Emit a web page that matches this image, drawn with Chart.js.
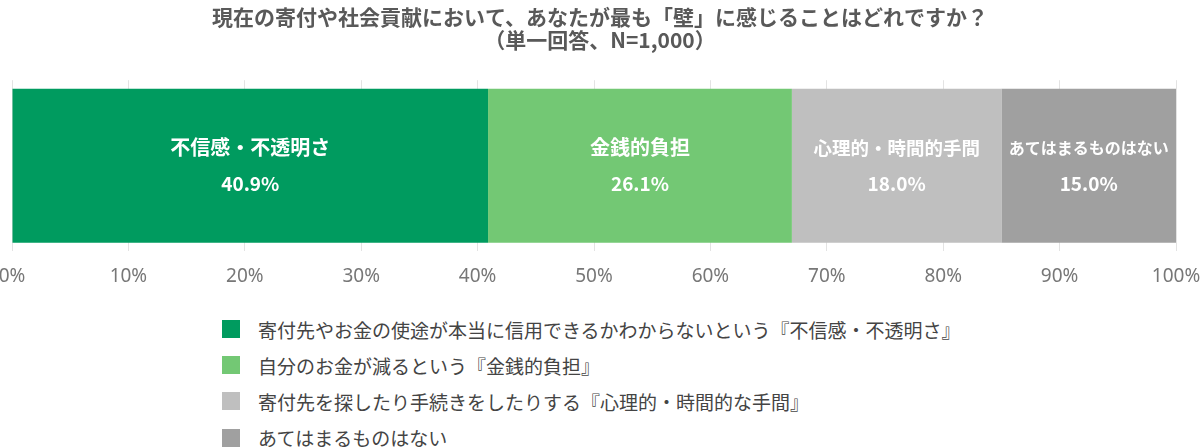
<!DOCTYPE html>
<html>
<head>
<meta charset="utf-8">
<script src="https://cdn.jsdelivr.net/npm/chart.js@4"></script>
<style>
  body { margin: 0; background: #fff; font-family: "Noto Sans CJK JP", "Noto Sans", sans-serif; }
  #wrap { position: relative; width: 1200px; height: 447px; }
  #box { position: absolute; left: 0; top: 0; width: 1200px; height: 302px; }
  #legend { position: absolute; left: 222px; top: 311px; margin: 0; padding: 0; list-style: none; }
  #legend li { height: 36.2px; display: flex; align-items: center; font-size: 19px; color: #444; }
  #legend span { display: inline-block; width: 18px; height: 18px; margin-right: 18px; }
</style>
</head>
<body>
<div id="wrap">
  <div id="box"><canvas id="chart"></canvas></div>
  <ul id="legend"></ul>
</div>
<script>
// Data
const titleLines = ['現在の寄付や社会貢献において、あなたが最も「壁」に感じることはどれですか？', '（単一回答、N=1,000）'];
const shortNames = ['不信感・不透明さ', '金銭的負担', '心理的・時間的手間', 'あてはまるものはない'];
const legendNames = [
    '寄付先やお金の使途が本当に信用できるかわからないという『不信感・不透明さ』',
    '自分のお金が減るという『金銭的負担』',
    '寄付先を探したり手続きをしたりする『心理的・時間的な手間』',
    'あてはまるものはない'
];
const shares = [40.9, 26.1, 18.0, 15.0];

// Styles
const colors = ['#009b5f', '#73c874', '#bfbfbf', '#a0a0a0'];
const nameSizes = [20, 20, 18.5, 16];

// labels drawn inside each segment
const insideLabels = {
    id: 'insideLabels',
    afterDatasetsDraw(chart) {
        const ctx = chart.ctx;
        ctx.save();
        ctx.textAlign = 'center';
        ctx.textBaseline = 'middle';
        chart.data.datasets.forEach((ds, i) => {
            const bar = chart.getDatasetMeta(i).data[0];
            const cx = (bar.x + bar.base) / 2;
            ctx.fillStyle = '#fff';
            ctx.font = 'bold ' + nameSizes[i] + 'px "Noto Sans CJK JP"';
            ctx.fillText(shortNames[i], cx, bar.y - 18);
            ctx.font = 'bold 19px "Noto Sans CJK JP"';
            ctx.fillText(ds.data[0].toFixed(1) + '%', cx, bar.y + 18);
        });
        ctx.restore();
    }
};

const chart = new Chart(document.getElementById('chart'), {
    type: 'bar',
    data: {
        labels: [''],
        datasets: shortNames.map((name, i) => ({
            label: name,
            data: [shares[i]],
            backgroundColor: colors[i],
            borderWidth: 0,
            barPercentage: 0.9,
            categoryPercentage: 1
        }))
    },
    options: {
        indexAxis: 'y',
        responsive: true,
        maintainAspectRatio: false,
        animation: false,
        layout: { padding: 0 },
        plugins: {
            legend: { display: false },
            tooltip: { enabled: false },
            title: {
                display: true,
                text: titleLines,
                color: '#595959',
                font: { family: '"Noto Sans CJK JP"', size: 21, weight: 'bold', lineHeight: 1.1 },
                padding: { top: 5, bottom: 29 }
            }
        },
        scales: {
            x: {
                stacked: true,
                min: 0,
                max: 100,
                afterFit: scale => {
                    scale.paddingLeft = 12;
                    scale.paddingRight = 24;
                },
                ticks: {
                    stepSize: 10,
                    padding: 14,
                    color: '#777',
                    font: { family: '"Noto Sans"', size: 19 },
                    callback: v => v + '%'
                },
                grid: { color: '#e3e3e3', drawTicks: false },
                border: { display: false }
            },
            y: {
                stacked: true,
                display: false
            }
        }
    },
    plugins: [insideLabels]
});

// HTML legend
document.getElementById('legend').innerHTML = legendNames.map((name, i) =>
    `<li><span style="background:${colors[i]}"></span>${name}</li>`
).join('');
</script>
</body>
</html>
